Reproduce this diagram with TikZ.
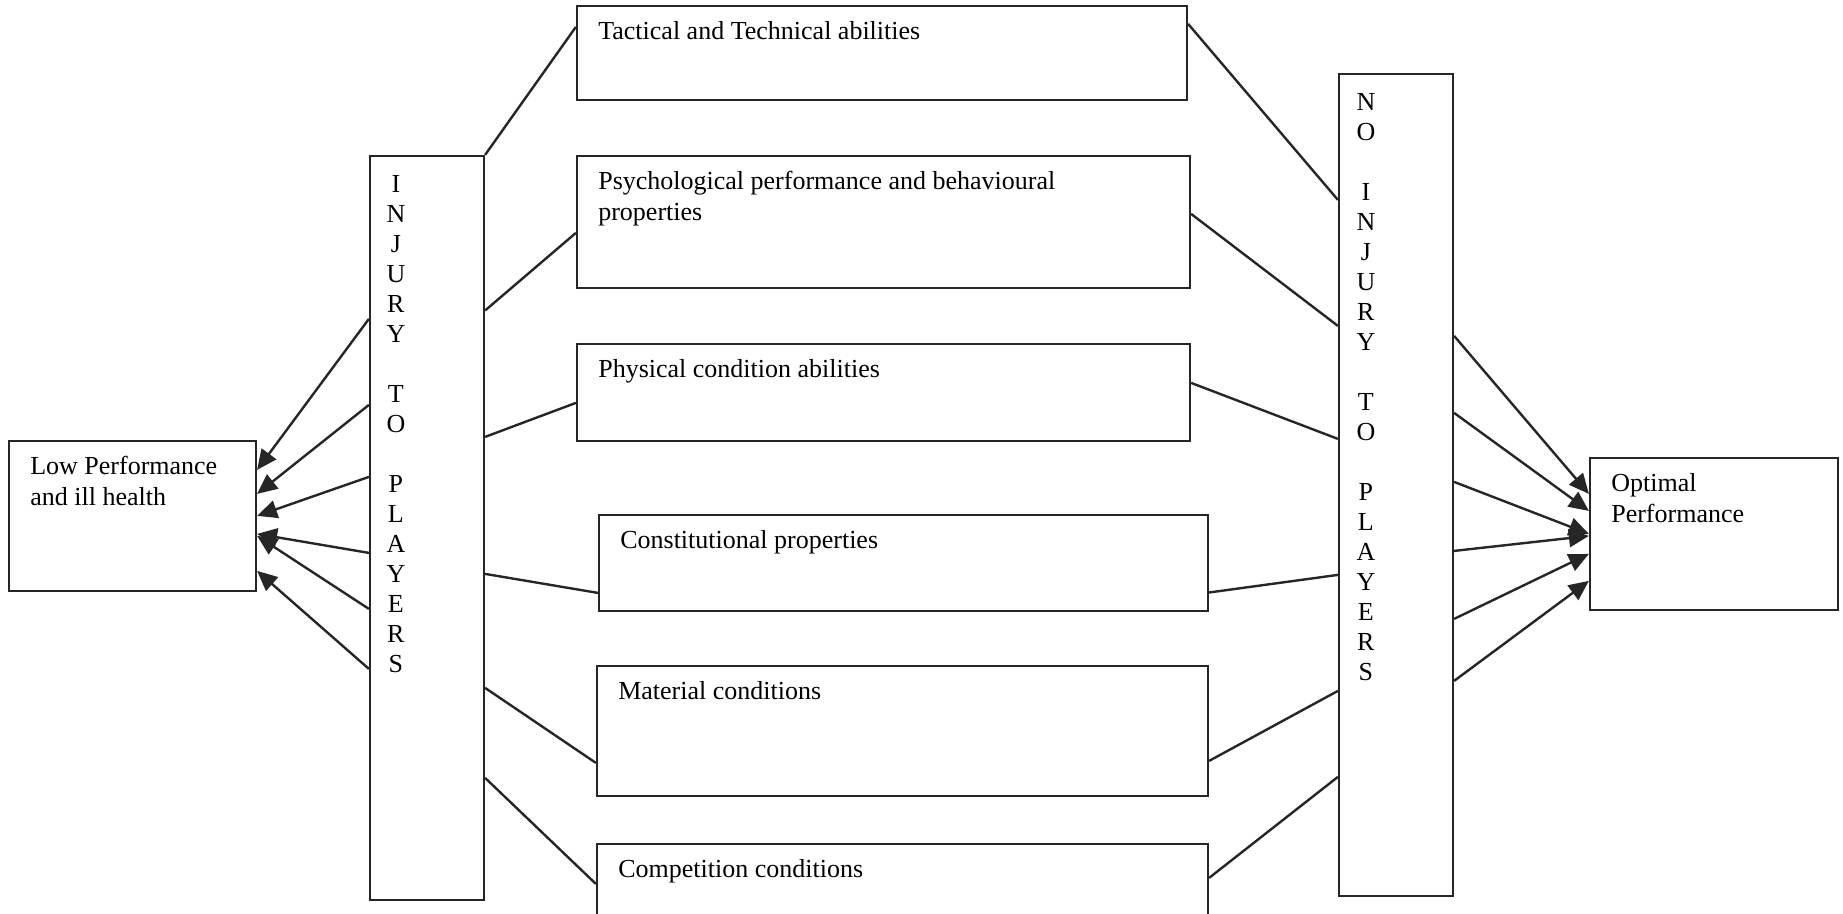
\documentclass[tikz,border=0pt]{standalone}
\usepackage{fontspec}
\setmainfont{Liberation Serif}
\usetikzlibrary{calc,arrows.meta}

\begin{document}
\begin{tikzpicture}[x=0.5pt,y=-0.5pt,
    box/.style={draw=black!85,line width=1.1pt,inner sep=0pt},
    lbl/.style={anchor=base west,xshift=11pt,yshift=-17.5pt,inner sep=0pt,
      align=left,font=\fontsize{13}{15.5}\selectfont},
    col/.style={anchor=base,yshift=-18pt,inner sep=0pt,align=center,
      font=\fontsize{13}{15}\selectfont},
    link/.style={draw=black!85,line width=1.2pt},
    arr/.style={link,-{Triangle[length=10pt,width=9pt]}}]
  \useasboundingbox (0,0) rectangle (1843,914);

  % outcome boxes (base anchor sits on the last line, hence the extra shift)
  \node[box,minimum width=123.5pt,minimum height=75pt,
    label={[lbl,yshift=-15.5pt]north west:Low Performance\\and ill health}] (low) at (132.5,516) {};
  \node[box,minimum width=124pt,minimum height=76pt,
    label={[lbl,yshift=-15.5pt]north west:Optimal\\Performance}] (opt) at (1714,534) {};

  % injury columns
  \node[box,minimum width=57pt,minimum height=372pt,
    label={[col,xshift=13.5pt,yshift=-241pt]north west:I\\N\\J\\U\\R\\Y\\[15pt]T\\O\\[15pt]P\\L\\A\\Y\\E\\R\\S}] (inj) at (427,528) {};
  \node[box,minimum width=57pt,minimum height=411pt,
    label={[col,xshift=14pt,yshift=-286pt]north west:N\\O\\[15pt]I\\N\\J\\U\\R\\Y\\[15pt]T\\O\\[15pt]P\\L\\A\\Y\\E\\R\\S}] (noinj) at (1396,485) {};

  % factor boxes
  \node[box,minimum width=305pt,minimum height=47pt,
    label={[lbl]north west:Tactical and Technical abilities}] (tac) at (882,53) {};
  \node[box,minimum width=306.5pt,minimum height=66pt,
    label={[lbl,yshift=-15.5pt]north west:Psychological performance and behavioural\\properties}] (psy) at (883.5,222) {};
  \node[box,minimum width=306.5pt,minimum height=48.5pt,
    label={[lbl]north west:Physical condition abilities}] (phy) at (883.5,392.5) {};
  \node[box,minimum width=304.5pt,minimum height=48pt,
    label={[lbl]north west:Constitutional properties}] (con) at (903.5,563) {};
  \node[box,minimum width=305.5pt,minimum height=65pt,
    label={[lbl]north west:Material conditions}] (mat) at (902.5,731) {};
  \node[box,minimum width=305.5pt,minimum height=58pt,
    label={[lbl]north west:Competition conditions}] (com) at (902.5,902) {};

  % injury column to factors
  \draw[link] (inj.north east) -- ([yshift=-11pt]tac.north west);
  \foreach \f/\a/\b in {psy/77.8/39, phy/141/30, con/209.5/39.5, mat/266.5/49, com/311.5/20.5}
    \draw[link] ([yshift=-\a pt]inj.north east) -- ([yshift=-\b pt]\f.north west);

  % factors to no injury column
  \foreach \f/\a/\b in {tac/9.5/63.5, psy/29.5/126.5, phy/20/183, con/39.3/251, mat/48/309, com/17.5/352}
    \draw[link] ([yshift=-\a pt]\f.north east) -- ([yshift=-\b pt]noinj.north west);

  % arrows to outcomes
  \foreach \a/\b in {82/15, 125/27, 161/38, 199/47, 227/48, 257/65.5}
    \draw[arr] ([yshift=-\a pt]inj.north west) -- ([yshift=-\b pt]low.north east);
  \foreach \a/\b in {131.5/18.5, 170/27, 204.5/38.5, 239/39.5, 273/48.5, 304/62}
    \draw[arr] ([yshift=-\a pt]noinj.north east) -- ([yshift=-\b pt]opt.north west);
\end{tikzpicture}
\end{document}
